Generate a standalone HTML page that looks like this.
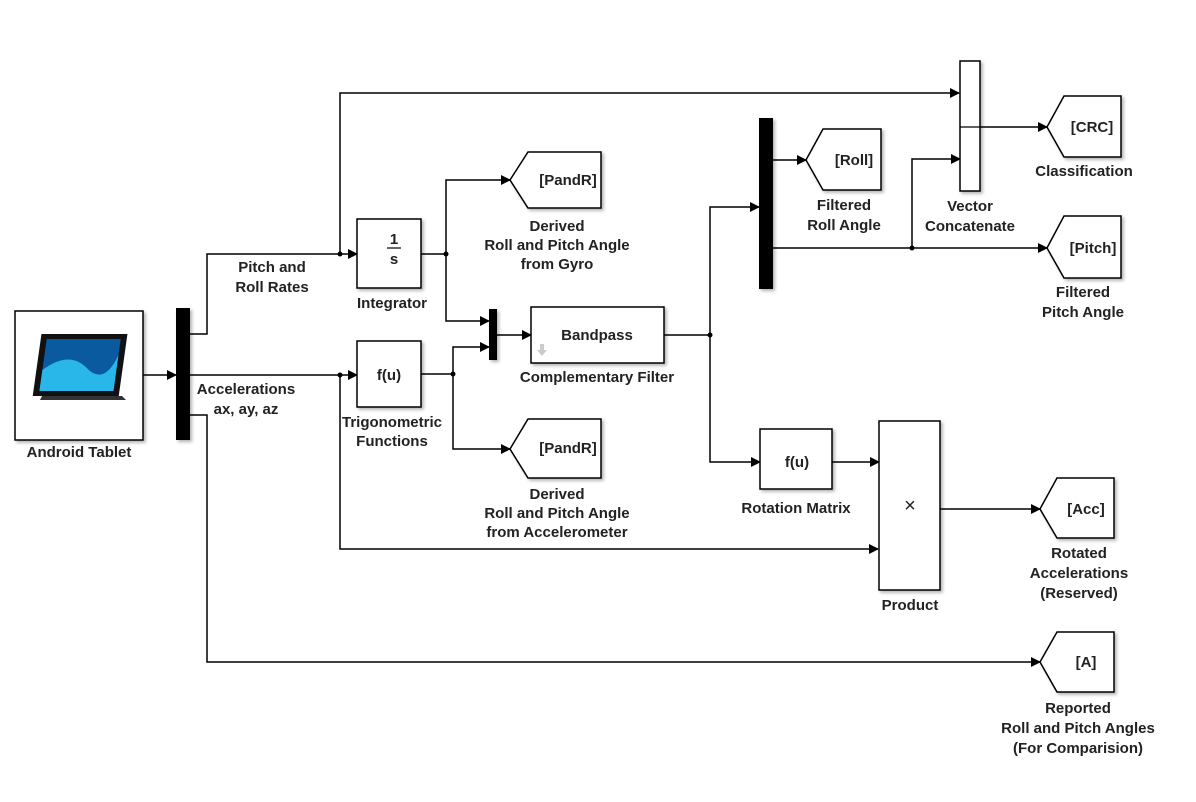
<!DOCTYPE html>
<html><head><meta charset="utf-8"><style>
html,body{margin:0;padding:0;background:#fff;}
svg text{font-family:"Liberation Sans",Arial,sans-serif;font-weight:bold;font-size:15px;fill:#222;}
</style></head><body>
<svg width="1196" height="797" viewBox="0 0 1196 797" xmlns="http://www.w3.org/2000/svg">
<defs>
<marker id="a" markerWidth="10" markerHeight="10" refX="9" refY="5" orient="auto" markerUnits="userSpaceOnUse">
<path d="M0,0 L10,5 L0,10 z" fill="#000"/></marker>
<filter id="sh"><feDropShadow dx="2" dy="2" stdDeviation="1.5" flood-opacity="0.3"/></filter>
</defs>
<rect width="1196" height="797" fill="#fff"/>
<g fill="none" stroke="#000" stroke-width="1.5">
<polyline points="143,375 176,375" marker-end="url(#a)"/>
<polyline points="190,334 207,334 207,254 357,254" marker-end="url(#a)"/>
<polyline points="340,254 340,93 959,93" marker-end="url(#a)"/>
<polyline points="190,375 357,375" marker-end="url(#a)"/>
<polyline points="340,375 340,549 878,549" marker-end="url(#a)"/>
<polyline points="190,415 207,415 207,662 1040,662" marker-end="url(#a)"/>
<polyline points="421,254 446,254"/>
<polyline points="446,254 446,180 510,180" marker-end="url(#a)"/>
<polyline points="446,254 446,321 489,321" marker-end="url(#a)"/>
<polyline points="421,374 453,374"/>
<polyline points="453,374 453,347 489,347" marker-end="url(#a)"/>
<polyline points="453,374 453,449 510,449" marker-end="url(#a)"/>
<polyline points="497,335 531,335" marker-end="url(#a)"/>
<polyline points="664,335 710,335"/>
<polyline points="710,335 710,207 759,207" marker-end="url(#a)"/>
<polyline points="710,335 710,462 760,462" marker-end="url(#a)"/>
<polyline points="773,160 806,160" marker-end="url(#a)"/>
<polyline points="773,248 1047,248" marker-end="url(#a)"/>
<polyline points="912,248 912,159 960,159" marker-end="url(#a)"/>
<polyline points="960,127 1047,127" marker-end="url(#a)"/>
<polyline points="832,462 879,462" marker-end="url(#a)"/>
<polyline points="940,509 1040,509" marker-end="url(#a)"/>
</g>
<g fill="#000">
<circle cx="340" cy="254" r="2.5"/><circle cx="340" cy="375" r="2.5"/>
<circle cx="446" cy="254" r="2.5"/><circle cx="453" cy="374" r="2.5"/>
<circle cx="710" cy="335" r="2.5"/><circle cx="912" cy="248" r="2.5"/>
</g>
<g fill="#fff" stroke="#000" stroke-width="1.5" filter="url(#sh)">
<rect x="15" y="311" width="128" height="129"/>
<rect x="357" y="219" width="64" height="69"/>
<rect x="357" y="341" width="64" height="66"/>
<rect x="531" y="307" width="133" height="56"/>
<rect x="960" y="61" width="20" height="130"/>
<rect x="760" y="429" width="72" height="60"/>
<rect x="879" y="421" width="61" height="169"/>
<polygon points="510,180 528,152 601,152 601,208 528,208"/>
<polygon points="510,449 528,419 601,419 601,478 528,478"/>
<polygon points="806,160 823,129 881,129 881,190 823,190"/>
<polygon points="1047,127 1064,96 1121,96 1121,157 1064,157"/>
<polygon points="1047,248 1064,216 1121,216 1121,278 1064,278"/>
<polygon points="1040,509 1057,478 1114,478 1114,538 1057,538"/>
<polygon points="1040,662 1057,632 1114,632 1114,692 1057,692"/>
</g>
<g fill="#000" filter="url(#sh)">
<rect x="176" y="308" width="14" height="132"/>
<rect x="489" y="309" width="8" height="51"/>
<rect x="759" y="118" width="14" height="171"/>
</g>
<line x1="960" y1="127" x2="980" y2="127" stroke="#000" stroke-width="1.2"/>
<g transform="translate(22,330) skewX(-8)">
<rect x="20" y="4" width="86" height="62" fill="#111"/>
<rect x="26" y="9" width="74" height="52" fill="#0a5aa0"/>
<path d="M26,40 Q50,20 70,38 T100,25 L100,61 L26,61z" fill="#29b7ea"/>
</g>
<path d="M42,396 L122,396 L126,400 L40,400z" fill="#333"/>
<g text-anchor="middle">
<text x="79" y="457">Android Tablet</text>
<text x="272" y="272">Pitch and</text><text x="272" y="292">Roll Rates</text>
<text x="246" y="394">Accelerations</text><text x="246" y="414">ax, ay, az</text>
<text x="394" y="244">1</text><line x1="387" y1="248" x2="401" y2="248" stroke="#000" stroke-width="1.2"/><text x="394" y="264">s</text>
<text x="392" y="308">Integrator</text>
<text x="389" y="380">f(u)</text>
<text x="392" y="427">Trigonometric</text><text x="392" y="446">Functions</text>
<text x="568" y="185">[PandR]</text>
<text x="557" y="231">Derived</text><text x="557" y="250">Roll and Pitch Angle</text><text x="557" y="269">from Gyro</text>
<text x="568" y="453">[PandR]</text>
<text x="557" y="499">Derived</text><text x="557" y="518">Roll and Pitch Angle</text><text x="557" y="537">from Accelerometer</text>
<text x="597" y="340">Bandpass</text>
<text x="597" y="382">Complementary Filter</text>
<text x="854" y="165">[Roll]</text>
<text x="844" y="210">Filtered</text><text x="844" y="230">Roll Angle</text>
<text x="970" y="211">Vector</text><text x="970" y="231">Concatenate</text>
<text x="1092" y="132">[CRC]</text>
<text x="1084" y="176">Classification</text>
<text x="1093" y="253">[Pitch]</text>
<text x="1083" y="297">Filtered</text><text x="1083" y="317">Pitch Angle</text>
<text x="797" y="467">f(u)</text>
<text x="796" y="513">Rotation Matrix</text>
<text x="910" y="512" style="font-weight:normal;font-size:20px">×</text>
<text x="910" y="610">Product</text>
<text x="1086" y="514">[Acc]</text>
<text x="1079" y="558">Rotated</text><text x="1079" y="578">Accelerations</text><text x="1079" y="598">(Reserved)</text>
<text x="1086" y="667">[A]</text>
<text x="1078" y="713">Reported</text><text x="1078" y="733">Roll and Pitch Angles</text><text x="1078" y="753">(For Comparision)</text>
</g>
<path d="M540,344 l4,0 l0,6 l3,0 l-5,6 l-5,-6 l3,0z" fill="#ccc"/>
</svg>
</body></html>
